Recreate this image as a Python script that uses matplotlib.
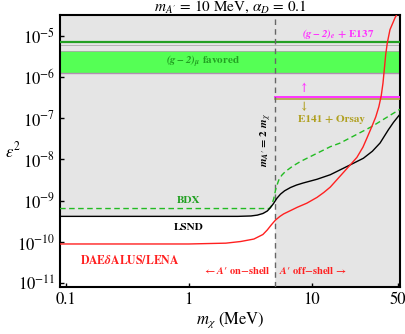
import numpy as np
import matplotlib
matplotlib.use('Agg')
import matplotlib.pyplot as plt

plt.rcParams['font.family'] = 'STIXGeneral'
plt.rcParams['mathtext.fontset'] = 'stix'

# curves: m_chi (MeV) vs log10(eps^2)
red_m = [0.09, 1.0, 2.0, 2.64, 3.38, 4.0, 4.34, 4.7, 5.06, 5.5, 5.9, 6.7, 7.6,
         9.1, 11.0, 12.5, 14.1, 17.0, 20.5, 23.2, 26.0, 28.0, 30.7, 33.0,
         35.0, 36.6, 37.8, 38.8, 39.8, 41.0, 43.1, 47.4, 52.0]
red_log = [-10.05, -10.05, -10.03, -9.99, -9.93, -9.82, -9.71, -9.58, -9.47,
           -9.38, -9.32, -9.24, -9.16, -9.06, -8.92, -8.80, -8.67, -8.40, -8.13,
           -7.95, -7.70, -7.48, -7.20, -6.97, -6.72, -6.45, -6.15, -5.80, -5.45,
           -5.17, -4.85, -4.56, -4.35]

lsnd_m = [0.09, 2.5, 3.2, 3.6, 4.0, 4.34, 4.6, 4.9, 5.2, 5.56, 6.0, 6.7, 7.5,
          8.5, 11.0, 14.1, 20.5, 26.2, 31.0, 35.8, 41.8, 46.0, 52.0]
lsnd_log = [-9.38, -9.38, -9.37, -9.35, -9.31, -9.25, -9.17, -9.06, -8.94,
            -8.84, -8.76, -8.68, -8.62, -8.57, -8.48, -8.37, -8.13, -7.97,
            -7.80, -7.60, -7.28, -7.10, -6.90]

bdx_m = [0.09, 4.5, 4.7, 4.9, 5.1, 5.38, 5.7, 6.1, 7.0, 8.06, 14.1, 17.0, 30.7, 52.0]
bdx_log = [-9.19, -9.19, -9.12, -8.95, -8.70, -8.50, -8.38, -8.29, -8.16, -8.05,
           -7.69, -7.60, -7.20, -6.78]

gm2_mu_band = [1.23e-6, 4.2e-6]
gm2_mu_line = 6.9e-6
gm2_e_line = 3.2e-7
e141_line = 2.95e-7
m_onshell = 5.0

xlim = (0.09, 51.9)
ylim = (8.1e-12, 3.2e-5)
gray = '#e5e5e5'

fig = plt.figure(figsize=(4.06, 3.34), dpi=100)
ax = fig.add_axes([0.148, 0.141, 0.837, 0.814])
ax.set_facecolor(gray)
ax.set_xscale('log')
ax.set_yscale('log')

# white (allowed) region under LSND, on-shell side
lm = np.array(lsnd_m)
ll = 10 ** np.array(lsnd_log)
sel = lm <= m_onshell
xm = np.append(lm[sel], m_onshell)
yl = np.append(ll[sel], np.interp(np.log(m_onshell), np.log(lm), ll))
ax.fill_between(xm, ylim[0], yl, color='white', lw=0, zorder=1)

ax.axhspan(gm2_mu_band[0], gm2_mu_band[1], color='#55ff55', lw=0, zorder=2)
ax.axhline(gm2_mu_band[0], color='#b090b0', lw=1.0, zorder=2)
ax.axhline(gm2_mu_band[1], color='#aaaaaa', lw=0.6, zorder=2)
ax.axhline(6.0e-6, color='#aaaaaa', lw=0.6, zorder=2)
ax.axhline(gm2_mu_line, color='#22a022', lw=1.6, zorder=3)

ax.plot([m_onshell, xlim[1]], [gm2_e_line] * 2, color='#ff33ff', lw=1.4, zorder=3)
ax.plot([m_onshell, xlim[1]], [e141_line] * 2, color='#b0a040', lw=1.2, zorder=3)

ax.axvline(m_onshell, color='#666666', ls=(0, (4, 3)), lw=1.0, zorder=4)

ax.plot(bdx_m, 10 ** np.array(bdx_log), color='#22bb22', ls=(0, (4, 2.5)), lw=1.0, zorder=5)
ax.plot(lsnd_m, 10 ** np.array(lsnd_log), color='black', lw=1.0, zorder=5)
ax.plot(red_m, 10 ** np.array(red_log), color='#ff2020', lw=1.0, zorder=5)

ax.set_xlim(*xlim)
ax.set_ylim(*ylim)
ax.set_xticks([0.1, 1, 10, 50])
ax.set_xticklabels(['0.1', '1', '10', '50'])
ax.set_yticks([10.0 ** k for k in range(-11, -4)])
ax.minorticks_off()
ax.tick_params(direction='in', length=3, width=1, labelsize=12, top=False, right=False)
for s in ax.spines.values():
    s.set_linewidth(1.5)

ax.set_xlabel(r'$m_\chi$ (MeV)', fontsize=12, labelpad=2)
ax.set_ylabel(r'$\epsilon^2$', fontsize=12, rotation=0)
ax.yaxis.set_label_coords(-0.14, 0.46)
ax.set_title(r"$m_{A'}$ = 10 MeV, $\alpha_D$ = 0.1", fontsize=11, pad=2)

kw = dict(fontsize=8, fontweight='bold', ha='center', va='center', zorder=6)
ax.text(1.3, 2.3e-6, r'$\mathbfit{(g-2)_\mu}$ favored', color='#22a022', **kw)
ax.text(16.5, 1.1e-5, r'$\mathbfit{(g-2)_e}$ + E137', color='#ff33ff', **kw)
ax.text(8.7, 5.5e-7, '↑', color='#ff33ff', **kw)
ax.text(8.7, 1.9e-7, '↓', color='#b0a020', **kw)
ax.text(14.5, 9.5e-8, 'E141 + Orsay', color='#b0a020', **kw)
ax.text(1.0, 1.02e-9, 'BDX', color='#22a022', **kw)
ax.text(1.0, 2.3e-10, 'LSND', color='black', **kw)
ax.text(0.33, 3.6e-11, r'DAE$\mathbfit{\delta}$ALUS/LENA', color='#ff2020',
        fontsize=8.5, fontweight='bold', ha='center', va='center', zorder=6)
ax.text(4.6, 2.0e-11, r"← $\mathbfit{A}$′ on−shell", color='#ff2020',
        fontsize=7.5, fontweight='bold', ha='right', va='center', zorder=6)
ax.text(5.4, 2.0e-11, r"$\mathbfit{A}$′ off−shell →", color='#ff2020',
        fontsize=7.5, fontweight='bold', ha='left', va='center', zorder=6)
ax.text(4.3, 3.0e-8, r"$\mathbfit{m}_{\mathbfit{A}\prime}$ = 2 $\mathbfit{m}_{\chi}$", color='black',
        fontsize=8, fontweight='bold', rotation=90, ha='center', va='center', zorder=6)

fig.savefig('out.png', dpi=100)
